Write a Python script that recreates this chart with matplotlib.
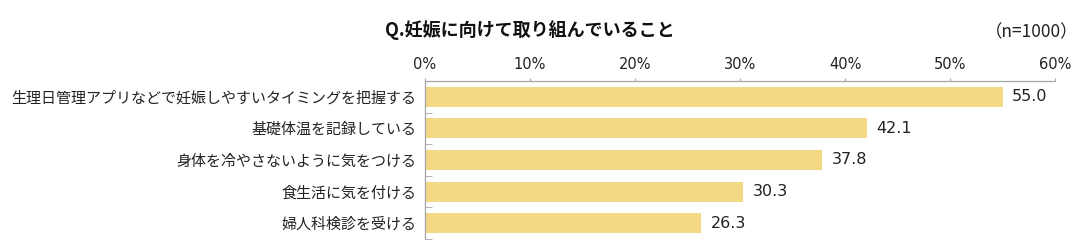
import matplotlib
matplotlib.use("Agg")
import matplotlib.pyplot as plt
import numpy as np

plt.rcParams['font.family'] = ['Noto Sans CJK JP', 'DejaVu Sans']

categories = [
    "生理日管理アプリなどで妊娠しやすいタイミングを把握する",
    "基礎体温を記録している",
    "身体を冷やさないように気をつける",
    "食生活に気を付ける",
    "婦人科検診を受ける",
]
values = [55.0, 42.1, 37.8, 30.3, 26.3]
xticks = [0, 10, 20, 30, 40, 50, 60]
xticklabels = ["0%", "10%", "20%", "30%", "40%", "50%", "60%"]
title = "Q.妊娠に向けて取り組んでいること"
note = "（n=1000）"

bar_color = "#F4D985"
grid_gray = "#A6A6A6"

fig = plt.figure(figsize=(10.91, 2.46), dpi=100)
ax = fig.add_axes([425/1091, 1-239/246, 630/1091, (239-81)/246])

y = np.arange(len(categories))
ax.barh(y, values, height=0.63, color=bar_color)
ax.set_xlim(0, 60)
ax.set_ylim(len(categories)-0.5, -0.5)

for yi, v in zip(y, values):
    ax.text(v + 0.9, yi, f"{v:.1f}", va='center', ha='left', fontsize=11.5,
            color='#222222', family=['DejaVu Sans'])

ax.set_yticks(y)
ax.set_yticklabels(categories, fontsize=10.8, color='#222222')
ax.set_yticks(np.arange(-0.5, len(categories)), minor=True)
ax.tick_params(axis='y', which='major', length=0, pad=6.5)
ax.tick_params(axis='y', which='minor', length=5, direction='in', color=grid_gray)

ax.xaxis.tick_top()
ax.set_xticks(xticks)
ax.set_xticklabels(xticklabels, fontsize=10.5, color='#222222', family=['DejaVu Sans'])
ax.tick_params(axis='x', length=2.5, color=grid_gray, pad=4)

for s in ['right', 'bottom']:
    ax.spines[s].set_visible(False)
for s in ['top', 'left']:
    ax.spines[s].set_color(grid_gray)
    ax.spines[s].set_linewidth(0.9)

fig.text(530/1091, 1-30/246, title, ha='center', va='center', fontsize=13, fontweight='bold', color='#111111')
fig.text(1078/1091, 1-32/246, note, ha='right', va='center', fontsize=12.5, color='#222222')

fig.savefig("out.png", dpi=100)
